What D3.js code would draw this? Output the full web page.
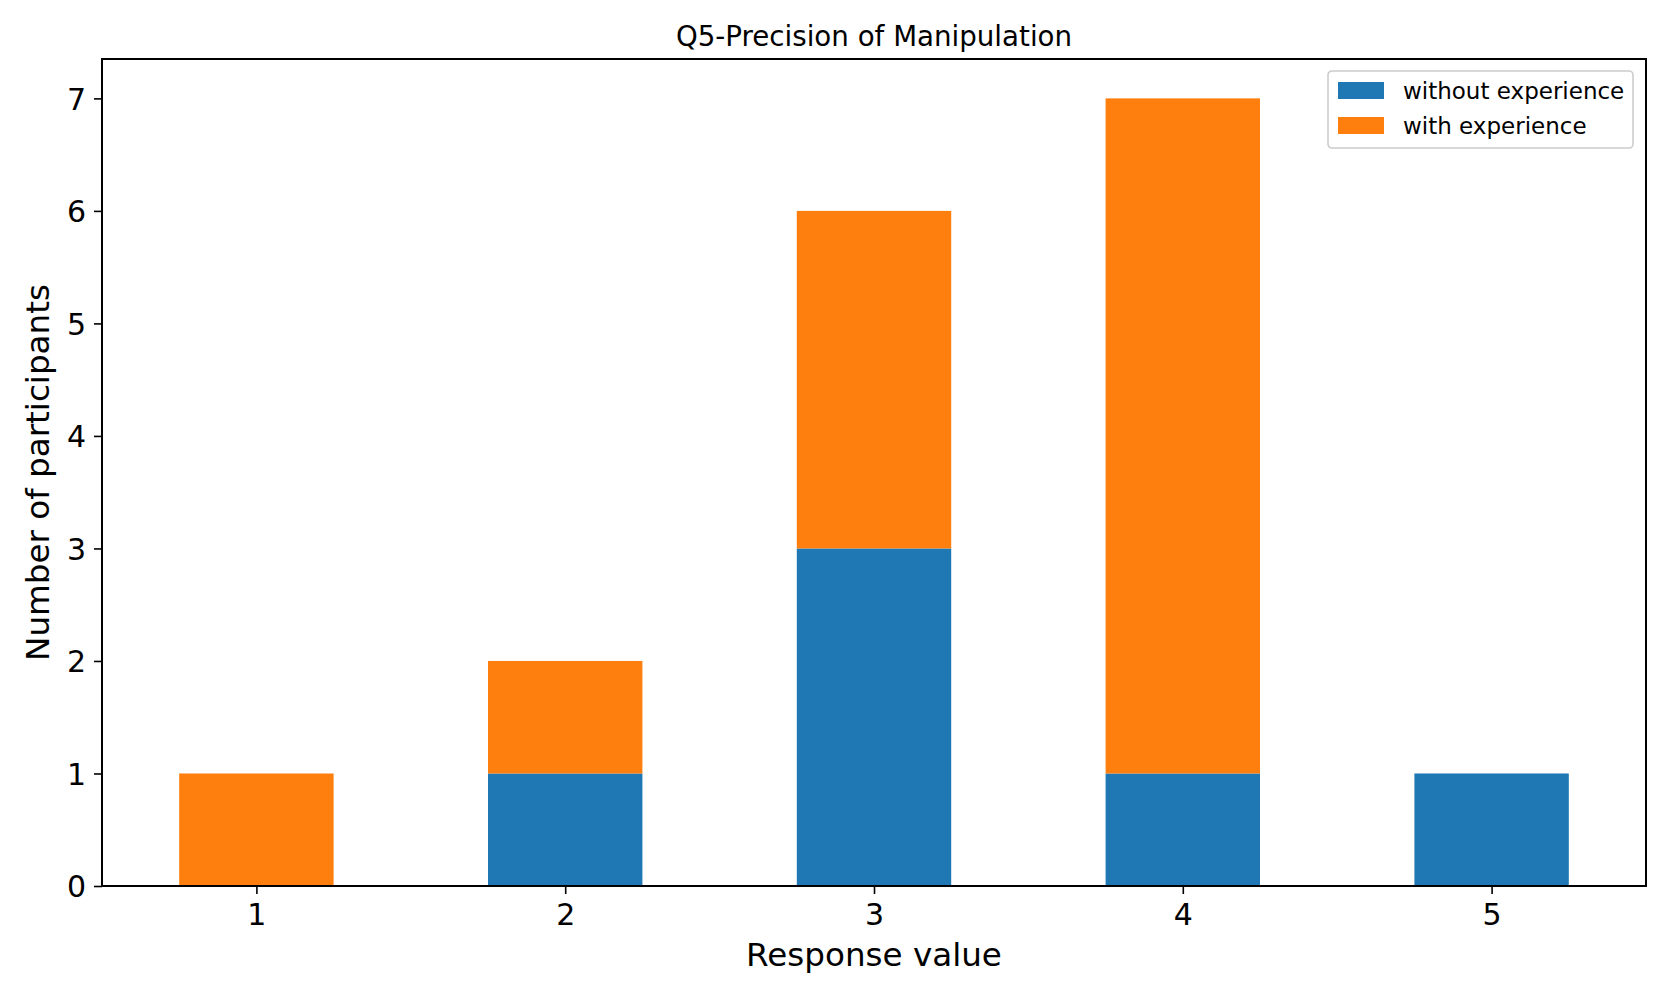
<!DOCTYPE html>
<html>
<head>
<meta charset="utf-8">
<script src="https://cdn.jsdelivr.net/npm/d3@7/dist/d3.min.js"></script>
<style>
  html, body { margin: 0; padding: 0; background: #fff; }
  svg { display: block; }
  text { font-family: "DejaVu Sans", sans-serif; fill: #000; }
</style>
</head>
<body>
<svg id="chart" width="1665" height="989"></svg>
<script>
const categories = ["1", "2", "3", "4", "5"];
const withoutExperience = [0, 1, 3, 1, 1];
const withExperience = [1, 1, 3, 6, 0];
const seriesNames = ["without experience", "with experience"];
const yTicks = [0, 1, 2, 3, 4, 5, 6, 7];
const colors = ["#1f77b4", "#ff7f0e"];

const W = 1665, H = 989;
const margin = { left: 102, right: 19, top: 59, bottom: 103 };
const svg = d3.select("#chart");
const x0 = margin.left, x1 = W - margin.right;
const y0 = H - margin.bottom, y1 = margin.top;

const x = d3.scaleLinear().domain([-0.5, categories.length - 0.5]).range([x0, x1]);
const y = d3.scaleLinear().domain([0, 7.35]).range([y0, y1]);
const barW = x(0.25) - x(-0.25);

const table = categories.map((c, i) => ({ cat: c, i, a: withoutExperience[i], b: withExperience[i] }));

const g = svg.append("g");
// bottom series
g.selectAll("rect.a").data(table).join("rect")
  .attr("x", d => x(d.i) - barW / 2)
  .attr("width", barW)
  .attr("y", d => y(d.a))
  .attr("height", d => y(0) - y(d.a))
  .attr("fill", colors[0]);
// top series
g.selectAll("rect.b").data(table).join("rect")
  .attr("x", d => x(d.i) - barW / 2)
  .attr("width", barW)
  .attr("y", d => y(d.a + d.b))
  .attr("height", d => y(d.a) - y(d.a + d.b))
  .attr("fill", colors[1]);

// axes
const xAxis = d3.axisBottom(x).tickValues(categories.map((c, i) => i))
  .tickFormat(i => categories[i]).tickSize(8).tickPadding(8);
const yAxis = d3.axisLeft(y).tickValues(yTicks).tickSize(8).tickPadding(8);

const gx = svg.append("g").attr("transform", `translate(0,${y0})`).call(xAxis);
const gy = svg.append("g").attr("transform", `translate(${x0},0)`).call(yAxis);
[gx, gy].forEach(a => {
  a.select(".domain").remove();
  a.selectAll(".tick line").attr("stroke", "#000").attr("stroke-width", 1.6);
  a.selectAll(".tick text").style("font-size", "30px").attr("font-family", "DejaVu Sans");
});
gx.selectAll(".tick text").attr("dy", "0.76em");
gy.selectAll(".tick text").attr("dy", "0.36em");

// frame
svg.append("rect").attr("x", x0).attr("y", y1).attr("width", x1 - x0).attr("height", y0 - y1)
  .attr("fill", "none").attr("stroke", "#000").attr("stroke-width", 2);

// title and labels
svg.append("text").attr("x", (x0 + x1) / 2).attr("y", 46).attr("text-anchor", "middle")
  .style("font-size", "27.7px").text("Q5-Precision of Manipulation");
svg.append("text").attr("x", (x0 + x1) / 2).attr("y", 966).attr("text-anchor", "middle")
  .style("font-size", "32.6px").text("Response value");
svg.append("text").attr("transform", `translate(49,${(y0 + y1) / 2}) rotate(-90)`).attr("text-anchor", "middle")
  .style("font-size", "32.6px").text("Number of participants");

// legend
const lg = svg.append("g").attr("transform", "translate(1328,71)");
lg.append("rect").attr("width", 305).attr("height", 77).attr("rx", 4)
  .attr("fill", "#fff").attr("fill-opacity", 0.8).attr("stroke", "#cccccc").attr("stroke-width", 1.6);
seriesNames.forEach((name, i) => {
  lg.append("rect").attr("x", 10).attr("y", 11 + i * 35).attr("width", 46).attr("height", 17).attr("fill", colors[i]);
  lg.append("text").attr("x", 75).attr("y", 19.5 + i * 35).attr("dy", "0.36em")
    .style("font-size", "23px").text(name);
});
</script>
</body>
</html>
